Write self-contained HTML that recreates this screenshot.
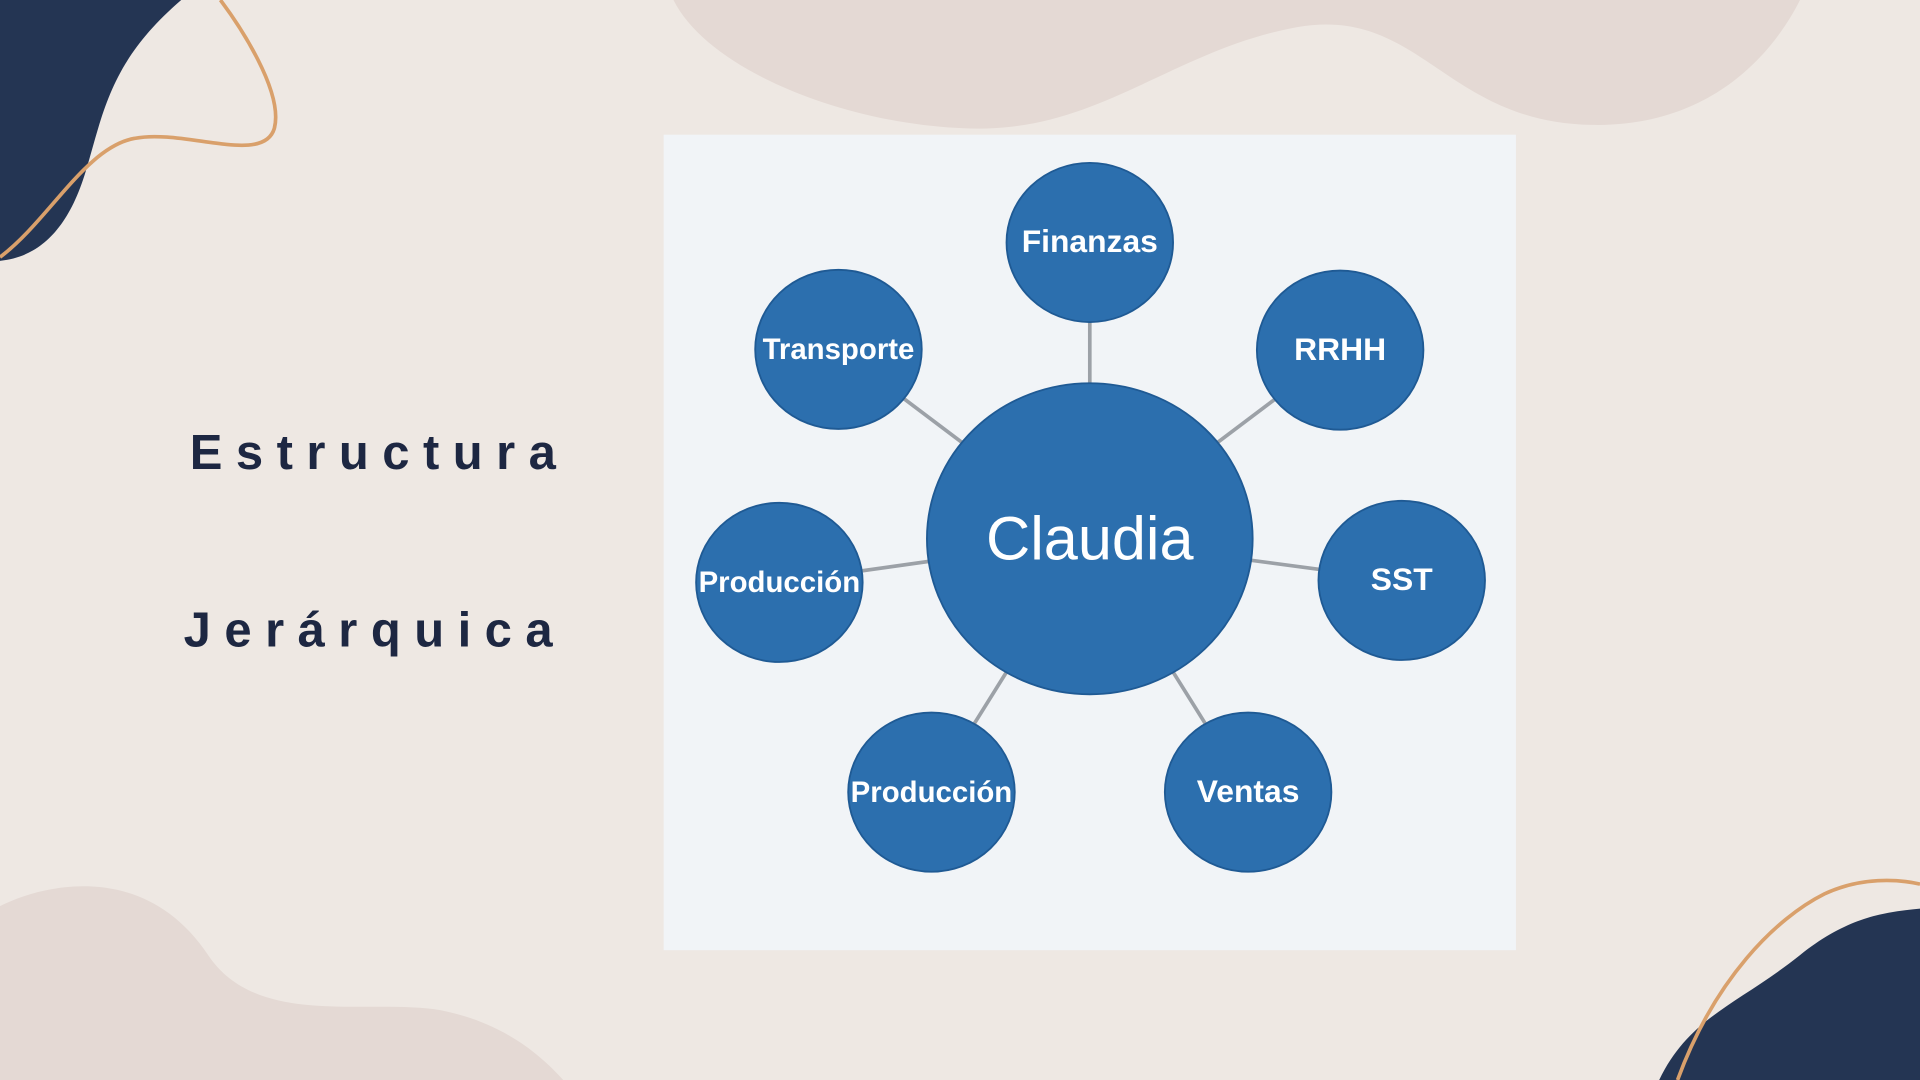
<!DOCTYPE html>
<html><head><meta charset="utf-8"><style>
html,body{margin:0;padding:0;width:1920px;height:1080px;overflow:hidden;background:#EEE8E3}
svg{display:block}
</style></head><body>
<svg id="s" width="1920" height="1080" viewBox="0 0 1568 882" xmlns="http://www.w3.org/2000/svg">
<rect width="1568" height="882" fill="#EEE8E3"/>
<path d="M550,0 C580,60 700,105 800,105 C900,105 960,40 1060,22 C1160,5 1180,100 1300,102 C1400,104 1450,40 1470,0 Z" fill="#E4D9D4"/>
<path d="M0,0 L148,0 C90,50 85,90 70,140 C55,190 30,210 0,213 Z" fill="#243553"/>
<path d="M0,210 C40,180 70,120 110,113 C150,105 215,135 224,105 C232,75 195,20 180,0" fill="none" stroke="#D9A06B" stroke-width="3"/>
<path d="M0,740 C40,720 120,705 170,780 C210,840 300,815 360,825 C410,835 440,860 460,882 L0,882 Z" fill="#E4D9D4"/>
<path d="M1355,882 C1380,830 1420,820 1470,780 C1510,748 1540,745 1568,742 L1568,882 Z" fill="#243553"/>
<path d="M1370,882 C1400,800 1450,750 1490,730 C1520,716 1550,718 1568,722" fill="none" stroke="#D9A06B" stroke-width="3"/>
<text x="155" y="383" font-family="Liberation Sans, sans-serif" font-weight="bold" font-size="40" letter-spacing="11" fill="#1D2742">Estructura</text>
<text x="150" y="528" font-family="Liberation Sans, sans-serif" font-weight="bold" font-size="40" letter-spacing="11" fill="#1D2742">Jerárquica</text>
<rect x="542" y="110" width="696" height="666" fill="#F1F4F7"/>
<g id="diagram"></g>
</svg>
<script>
const labels = ["Finanzas","RRHH","SST","Ventas","Producción","Producción","Transporte"];
const angles = [-90,-37,7.6,58,122,172,-143];
const distances = [242,256,257,244,244,256,257];
const centerLabel = "Claudia";
const NS="http://www.w3.org/2000/svg";
const g=document.getElementById('diagram');
const cx=890, cy=440, rxC=133, ryC=127, rx=68, ry=65;
function mk(t,a){const e=document.createElementNS(NS,t);for(const k in a)e.setAttribute(k,a[k]);return e;}
const pos=labels.map((l,i)=>{const a=angles[i]*Math.PI/180;return [cx+distances[i]*Math.cos(a),cy+distances[i]*Math.sin(a)];});
pos.forEach((p,i)=>{
  const l=mk('line',{x1:cx,y1:cy,x2:p[0],y2:p[1],stroke:'#9CA1A7','stroke-width':3});
  
  
  g.appendChild(l);
});
const c=mk('ellipse',{cx:cx,cy:cy,rx:rxC,ry:ryC,fill:'#2C6FAE',stroke:'#1F5A94','stroke-width':1.5});


g.appendChild(c);
const ct=mk('text',{x:cx,y:cy+17,'text-anchor':'middle','font-family':'Liberation Sans, sans-serif','font-size':50,fill:'#fff'});
ct.textContent=centerLabel;


g.appendChild(ct);
pos.forEach((p,i)=>{
  const e=mk('ellipse',{cx:p[0],cy:p[1],rx:rx,ry:ry,fill:'#2C6FAE',stroke:'#1F5A94','stroke-width':1.5});
  
  
  g.appendChild(e);
  const t=mk('text',{x:p[0],y:p[1]+8,'text-anchor':'middle','font-family':'Liberation Sans, sans-serif','font-weight':'bold','font-size':labels[i].length>8?24:26,fill:'#fff'});
  t.textContent=labels[i];
  
  
  g.appendChild(t);
});
</script>
</body></html>
